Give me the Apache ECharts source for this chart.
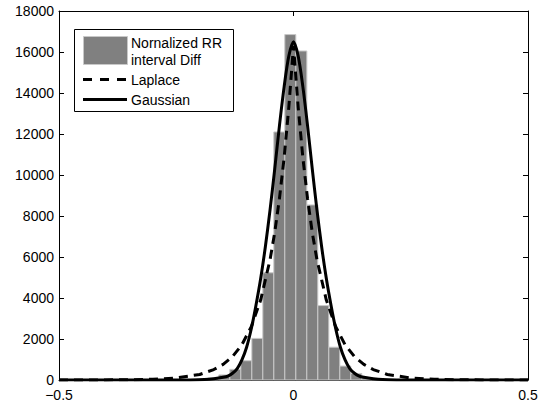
<!DOCTYPE html>
<html>
<head>
<meta charset="utf-8">
<script src="https://cdn.jsdelivr.net/npm/echarts@6/dist/echarts.min.js"></script>
<style>
html, body { margin: 0; padding: 0; background: #fff; }
#chart { width: 546px; height: 406px; }
</style>
</head>
<body>
<div id="chart"></div>
<script>
// histogram bins (centre of each bin) and counts
var binCenters = [-0.1945, -0.171, -0.1475, -0.124, -0.1006, -0.0771, -0.0537, -0.0302, -0.0068, 0.0167, 0.0401, 0.0636, 0.087, 0.1105, 0.1339, 0.1574, 0.1808];
var binCounts = [40, 100, 250, 520, 940, 2030, 5230, 12100, 16850, 16050, 8540, 3630, 1600, 680, 320, 120, 50];
var binWidth = 0.02345;

// fitted curves
var gaussX = [-0.5, -0.3, -0.22, -0.19, -0.17, -0.15, -0.14, -0.13, -0.12, -0.11, -0.1, -0.09, -0.08, -0.07, -0.06, -0.05, -0.04, -0.03, -0.02, -0.01, 0,
	0.01, 0.02, 0.03, 0.04, 0.05, 0.06, 0.07, 0.08, 0.09, 0.1, 0.11, 0.12, 0.13, 0.14, 0.15, 0.17, 0.19, 0.22, 0.3, 0.5];
var gaussY = [0, 0, 5, 20, 60, 130, 190, 330, 560, 980, 1600, 2500, 3650, 4950, 6500, 8300, 10300, 12400, 14300, 15800, 16500,
	15800, 14300, 12400, 10300, 8300, 6500, 4950, 3650, 2500, 1600, 980, 560, 330, 190, 130, 60, 20, 5, 0, 0];

var lapX = [-0.5, -0.4, -0.35, -0.3, -0.25, -0.2, -0.17, -0.15, -0.13, -0.11, -0.09, -0.07, -0.05, -0.04, -0.03, -0.02, -0.01, 0,
	0.01, 0.02, 0.03, 0.04, 0.05, 0.07, 0.09, 0.11, 0.13, 0.15, 0.17, 0.2, 0.25, 0.3, 0.35, 0.4, 0.5];
var lapY = [1, 5, 13, 35, 100, 270, 510, 760, 1140, 1720, 2600, 3900, 5870, 7200, 8840, 10840, 13300, 16300,
	13300, 10840, 8840, 7200, 5870, 3900, 2600, 1720, 1140, 760, 510, 270, 100, 35, 13, 5, 1];

function pairs(xs, ys) {
	var out = [];
	for (var i = 0; i < xs.length; i++) {
		out.push([xs[i], ys[i]]);
	}
	return out;
}

var font = '"Liberation Sans", Arial, Helvetica, sans-serif';

function xAxisOf(pos, showLabel) {
	return {
		type: 'value',
		min: -0.5,
		max: 0.5,
		interval: 0.5,
		position: pos,
		axisLine: { show: true, onZero: false, lineStyle: { color: '#000', width: 1 } },
		axisTick: { show: true, inside: true, length: 5, lineStyle: { color: '#000' } },
		axisLabel: {
			show: showLabel,
			color: '#000',
			fontSize: 14,
			fontFamily: font,
			margin: 8,
			formatter: function(v) {
				return v < 0 ? '\u2212' + (-v) : String(v);
			}
		},
		splitLine: { show: false }
	};
}

function yAxisOf(pos, showLabel) {
	return {
		type: 'value',
		min: 0,
		max: 18000,
		interval: 2000,
		position: pos,
		axisLine: { show: true, onZero: false, lineStyle: { color: '#000', width: 1 } },
		axisTick: { show: true, inside: true, length: 5, lineStyle: { color: '#000' } },
		axisLabel: {
			show: showLabel,
			color: '#000',
			fontSize: 14,
			fontFamily: font,
			margin: 5,
			formatter: function(v) { return String(v); }
		},
		splitLine: { show: false }
	};
}

var myChart = echarts.init(document.getElementById('chart'), null, { renderer: 'svg' });

var option = {
	backgroundColor: '#fff',
	animation: false,
	grid: {
		left: 59,
		right: 18,
		top: 11,
		bottom: 26
	},
	xAxis: [xAxisOf('bottom', true), xAxisOf('top', false)],
	yAxis: [yAxisOf('left', true), yAxisOf('right', false)],
	series: [{
		name: 'Nornalized RR interval Diff',
		type: 'custom',
		xAxisIndex: 0,
		yAxisIndex: 0,
		z: 1,
		data: pairs(binCenters, binCounts),
		renderItem: function(params, api) {
			var c = api.value(0);
			var h = api.value(1);
			var p0 = api.coord([c - binWidth / 2, h]);
			var p1 = api.coord([c + binWidth / 2, 0]);
			return {
				type: 'rect',
				shape: { x: p0[0], y: p0[1], width: p1[0] - p0[0], height: p1[1] - p0[1] },
				style: { fill: '#808080', stroke: '#c8c8c8', lineWidth: 1 }
			};
		}
	}, {
		name: 'Laplace',
		type: 'line',
		z: 3,
		symbol: 'none',
		clip: true,
		data: pairs(lapX, lapY),
		lineStyle: { color: '#000', width: 3, type: [9, 6] }
	}, {
		name: 'Gaussian',
		type: 'line',
		z: 4,
		symbol: 'none',
		smooth: 0.3,
		clip: true,
		data: pairs(gaussX, gaussY),
		lineStyle: { color: '#000', width: 3 }
	}],
	graphic: [{
		type: 'rect',
		shape: { x: 74.5, y: 29.5, width: 159, height: 82 },
		style: { fill: '#fff', stroke: '#000', lineWidth: 1 },
		z: 10
	}, {
		type: 'rect',
		shape: { x: 83.5, y: 36.5, width: 44, height: 28 },
		style: { fill: '#808080', stroke: '#c8c8c8', lineWidth: 1 },
		z: 11
	}, {
		type: 'text',
		x: 131, y: 43,
		style: { text: 'Nornalized RR', fill: '#000', fontSize: 14, fontFamily: font, verticalAlign: 'middle' },
		z: 11
	}, {
		type: 'text',
		x: 131, y: 59.5,
		style: { text: 'interval Diff', fill: '#000', fontSize: 14, fontFamily: font, verticalAlign: 'middle' },
		z: 11
	}, {
		type: 'line',
		shape: { x1: 83, y1: 79.5, x2: 127, y2: 79.5 },
		style: { stroke: '#000', lineWidth: 3, lineDash: [9, 8] },
		z: 11
	}, {
		type: 'text',
		x: 131, y: 79.5,
		style: { text: 'Laplace', fill: '#000', fontSize: 14, fontFamily: font, verticalAlign: 'middle' },
		z: 11
	}, {
		type: 'line',
		shape: { x1: 83, y1: 99.5, x2: 127, y2: 99.5 },
		style: { stroke: '#000', lineWidth: 3 },
		z: 11
	}, {
		type: 'text',
		x: 131, y: 99.5,
		style: { text: 'Gaussian', fill: '#000', fontSize: 14, fontFamily: font, verticalAlign: 'middle' },
		z: 11
	}]
};
myChart.setOption(option);
</script>
</body>
</html>
